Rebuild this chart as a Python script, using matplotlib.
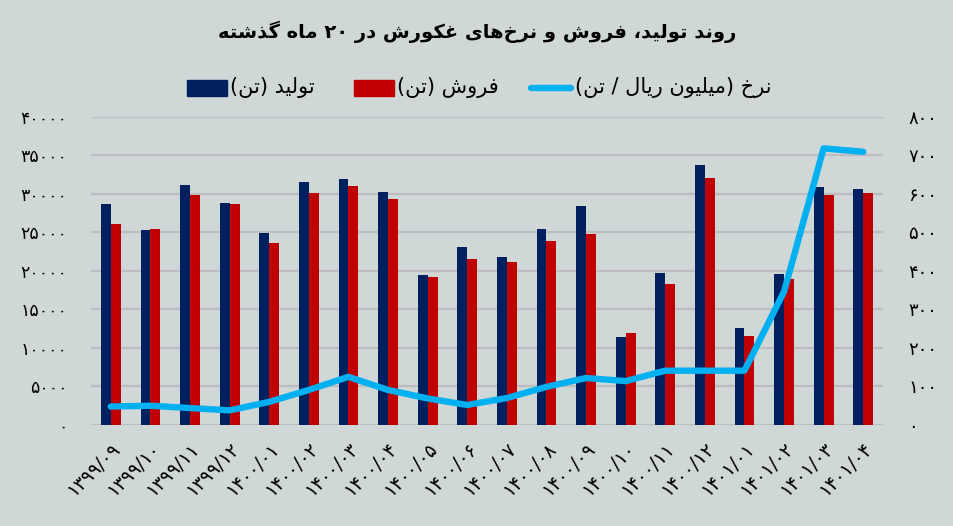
import re
import matplotlib
matplotlib.use("Agg")
import matplotlib.pyplot as plt
from matplotlib.patches import Rectangle
from matplotlib.lines import Line2D

# ---------------- data ----------------
months = ["۱۳۹۹/۰۹", "۱۳۹۹/۱۰", "۱۳۹۹/۱۱", "۱۳۹۹/۱۲", "۱۴۰۰/۰۱", "۱۴۰۰/۰۲",
          "۱۴۰۰/۰۳", "۱۴۰۰/۰۴", "۱۴۰۰/۰۵", "۱۴۰۰/۰۶", "۱۴۰۰/۰۷", "۱۴۰۰/۰۸",
          "۱۴۰۰/۰۹", "۱۴۰۰/۱۰", "۱۴۰۰/۱۱", "۱۴۰۰/۱۲", "۱۴۰۱/۰۱", "۱۴۰۱/۰۲",
          "۱۴۰۱/۰۳", "۱۴۰۱/۰۴"]
production = [28700, 25300, 31100, 28800, 24900, 31500, 31900, 30200, 19500, 23100,
              21800, 25500, 28400, 11400, 19700, 33800, 12600, 19600, 30900, 30600]
sales = [26100, 25500, 29800, 28700, 23600, 30100, 31000, 29300, 19200, 21500,
         21100, 23900, 24800, 11900, 18300, 32000, 11500, 18900, 29900, 30100]
rate = [48, 50, 44, 38, 60, 91, 125, 91, 69, 52,
        70, 99, 122, 114, 141, 141, 141, 346, 718, 709]
left_ticks = [0, 5000, 10000, 15000, 20000, 25000, 30000, 35000, 40000]
right_ticks = [0, 100, 200, 300, 400, 500, 600, 700, 800]

title_text = "روند تولید، فروش و نرخ\u200cهای غکورش در ۲۰ ماه گذشته"
lbl_prod = "تولید (تن)"
lbl_sales = "فروش (تن)"
lbl_rate = "نرخ (میلیون ریال / تن)"

# ------------- simple Persian shaping for matplotlib -------------
FORMS = {
    'ا': ('\uFE8D', '\uFE8E', None, None), 'آ': ('\uFE81', '\uFE82', None, None),
    'ب': ('\uFE8F', '\uFE90', '\uFE91', '\uFE92'), 'پ': ('\uFB56', '\uFB57', '\uFB58', '\uFB59'),
    'ت': ('\uFE95', '\uFE96', '\uFE97', '\uFE98'), 'ث': ('\uFE99', '\uFE9A', '\uFE9B', '\uFE9C'),
    'ج': ('\uFE9D', '\uFE9E', '\uFE9F', '\uFEA0'), 'چ': ('\uFB7A', '\uFB7B', '\uFB7C', '\uFB7D'),
    'ح': ('\uFEA1', '\uFEA2', '\uFEA3', '\uFEA4'), 'خ': ('\uFEA5', '\uFEA6', '\uFEA7', '\uFEA8'),
    'د': ('\uFEA9', '\uFEAA', None, None), 'ذ': ('\uFEAB', '\uFEAC', None, None),
    'ر': ('\uFEAD', '\uFEAE', None, None), 'ز': ('\uFEAF', '\uFEB0', None, None),
    'ژ': ('\uFB8A', '\uFB8B', None, None),
    'س': ('\uFEB1', '\uFEB2', '\uFEB3', '\uFEB4'), 'ش': ('\uFEB5', '\uFEB6', '\uFEB7', '\uFEB8'),
    'ص': ('\uFEB9', '\uFEBA', '\uFEBB', '\uFEBC'), 'ض': ('\uFEBD', '\uFEBE', '\uFEBF', '\uFEC0'),
    'ط': ('\uFEC1', '\uFEC2', '\uFEC3', '\uFEC4'), 'ظ': ('\uFEC5', '\uFEC6', '\uFEC7', '\uFEC8'),
    'ع': ('\uFEC9', '\uFECA', '\uFECB', '\uFECC'), 'غ': ('\uFECD', '\uFECE', '\uFECF', '\uFED0'),
    'ف': ('\uFED1', '\uFED2', '\uFED3', '\uFED4'), 'ق': ('\uFED5', '\uFED6', '\uFED7', '\uFED8'),
    'ک': ('\uFB8E', '\uFB8F', '\uFB90', '\uFB91'), 'گ': ('\uFB92', '\uFB93', '\uFB94', '\uFB95'),
    'ل': ('\uFEDD', '\uFEDE', '\uFEDF', '\uFEE0'), 'م': ('\uFEE1', '\uFEE2', '\uFEE3', '\uFEE4'),
    'ن': ('\uFEE5', '\uFEE6', '\uFEE7', '\uFEE8'), 'ه': ('\uFEE9', '\uFEEA', '\uFEEB', '\uFEEC'),
    'و': ('\uFEED', '\uFEEE', None, None), 'ی': ('\uFBFC', '\uFBFD', '\uFBFE', '\uFBFF'),
}


def _shape(text):
    out = []
    n = len(text)
    for i, c in enumerate(text):
        if c == '\u200c':
            continue
        if c not in FORMS:
            out.append(c)
            continue
        prev = text[i - 1] if i > 0 else None
        nxt = text[i + 1] if i < n - 1 else None
        cp = prev in FORMS and FORMS[prev][2] is not None
        cn = nxt in FORMS and FORMS[c][2] is not None
        iso, fin, ini, med = FORMS[c]
        if cp and cn:
            out.append(med)
        elif cp:
            out.append(fin)
        elif cn:
            out.append(ini)
        else:
            out.append(iso)
    return ''.join(out)


def rtl(text):
    r = _shape(text)[::-1]
    r = re.sub(r'[0-9\u06F0-\u06F9]+', lambda m: m.group(0)[::-1], r)
    return r.translate(str.maketrans('()', ')('))


def fa(n):
    return str(n).translate(str.maketrans('0123456789', '۰۱۲۳۴۵۶۷۸۹'))


# ---------------- style ----------------
BG = '#cfd8d6'
GRID = '#bcbcc1'
NAVY = '#002060'
RED = '#c00000'
BLUE = '#00b0f0'
plt.rcParams['font.family'] = ['DejaVu Sans']

fig = plt.figure(figsize=(9.54, 5.26), dpi=100, facecolor=BG)
ax = fig.add_axes([0.0954, 0.192, 0.8302, 0.586])
ax.set_facecolor(BG)

x = list(range(len(months)))
w = 0.25
ax.bar([i - w / 2 for i in x], production, width=w, color=NAVY, zorder=2)
ax.bar([i + w / 2 for i in x], sales, width=w, color=RED, zorder=2)
ax.set_xlim(-0.5, len(months) - 0.5)
ax.set_ylim(0, 40000)
ax.set_yticks(left_ticks)
ax.set_yticklabels([fa(t) for t in left_ticks], fontsize=12.5)
ax.yaxis.grid(True, color=GRID, lw=1.6)
ax.set_axisbelow(True)
ax.tick_params(axis='y', length=0, pad=17)
ax.set_xticks(x)
ax.set_xticklabels(months, rotation=45, ha='right', va='top',
                   rotation_mode='anchor', fontsize=13.5)
ax.tick_params(axis='x', length=0, pad=10)
for s in ax.spines.values():
    s.set_visible(False)

ax2 = ax.twinx()
ax2.plot(x, rate, color=BLUE, lw=4.6, solid_capstyle='round', solid_joinstyle='round', zorder=3)
ax2.set_ylim(0, 800)
ax2.set_yticks(right_ticks)
ax2.set_yticklabels([fa(t) for t in right_ticks], fontsize=13)
ax2.tick_params(axis='y', length=0, pad=18)
for s in ax2.spines.values():
    s.set_visible(False)

# ---------------- title ----------------
fig.text(0.5, 1 - 32 / 526, rtl(title_text), ha='center', va='center',
         fontsize=14, fontweight='bold', color='black')

# ---------------- legend ----------------
ly = 1 - 88 / 526
W, H = 954, 526
fig.patches.append(Rectangle((187 / W, ly - 8 / H), 40 / W, 16 / H,
                             transform=fig.transFigure, color=NAVY))
fig.text(230 / W, ly, rtl(lbl_prod), ha='left', va='center', fontsize=15)
fig.patches.append(Rectangle((354 / W, ly - 8 / H), 40 / W, 16 / H,
                             transform=fig.transFigure, color=RED))
fig.text(397 / W, ly, rtl(lbl_sales), ha='left', va='center', fontsize=15)
fig.lines.append(Line2D([531 / W, 571 / W], [ly, ly], transform=fig.transFigure,
                        color=BLUE, lw=4.6, solid_capstyle='round'))
fig.text(575 / W, ly, rtl(lbl_rate), ha='left', va='center', fontsize=15)

fig.savefig('out.png', dpi=100, facecolor=BG)
